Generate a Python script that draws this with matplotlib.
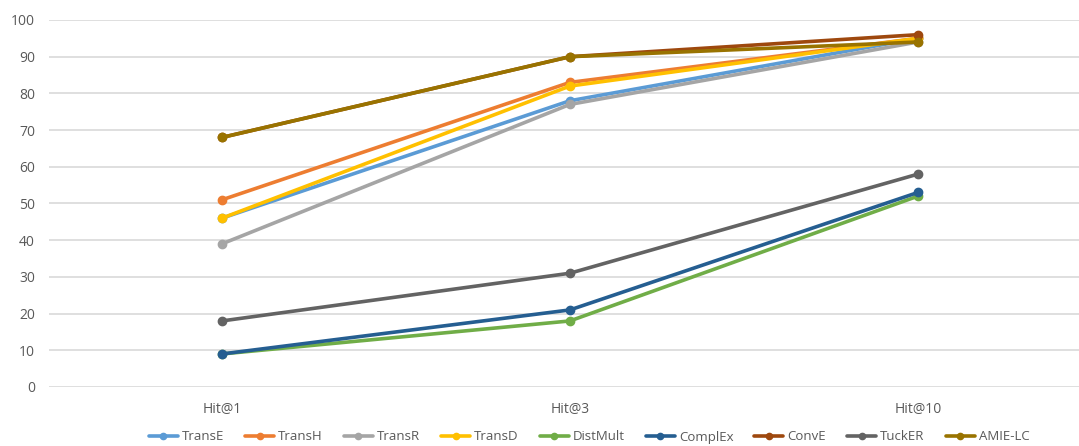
import matplotlib
matplotlib.use("Agg")
import matplotlib.pyplot as plt

categories = ["Hit@1", "Hit@3", "Hit@10"]

trans_e = [46, 78, 95]
trans_h = [51, 83, 95]
trans_r = [39, 77, 94]
trans_d = [46, 82, 95]
dist_mult = [9, 18, 52]
compl_ex = [9, 21, 53]
conv_e = [68, 90, 96]
tuck_er = [18, 31, 58]
amie_lc = [68, 90, 94]

series = [
    ("TransE", trans_e, "#5B9BD5"),
    ("TransH", trans_h, "#ED7D31"),
    ("TransR", trans_r, "#A5A5A5"),
    ("TransD", trans_d, "#FFC000"),
    ("DistMult", dist_mult, "#70AD47"),
    ("ComplEx", compl_ex, "#255E91"),
    ("ConvE", conv_e, "#9E480E"),
    ("TuckER", tuck_er, "#636363"),
    ("AMIE-LC", amie_lc, "#997300"),
]

plt.rcParams["font.family"] = ["Open Sans", "DejaVu Sans"]

fig = plt.figure(figsize=(10.79, 4.46), dpi=100)
ax = fig.add_axes([49 / 1079, 1 - 387 / 446, (1079 - 49) / 1079, 367 / 446])

x = list(range(len(categories)))
for name, vals, color in series:
    ax.plot(x, vals, color=color, lw=2.6, marker="o", ms=6,
            solid_capstyle="round", label=name, clip_on=False)

ax.set_ylim(0, 100)
ax.set_xlim(-0.497, 2.463)
ax.set_yticks(range(0, 101, 10))
ax.set_xticks(x)
ax.set_xticklabels(categories)
ax.yaxis.grid(True, color="#D9D9D9", lw=1.2)
ax.set_axisbelow(True)
for s in ax.spines.values():
    s.set_visible(False)
ax.tick_params(axis="both", length=0, colors="#595959", labelsize=10)
ax.tick_params(axis="y", pad=10)
ax.tick_params(axis="x", pad=11)

leg = fig.legend(loc="center", bbox_to_anchor=(589 / 1079, 1 - 437 / 446),
                 ncol=9, frameon=False, fontsize=9.5, handlelength=2.2,
                 handletextpad=0.3, columnspacing=1.6, markerscale=0.75)
for t in leg.get_texts():
    t.set_color("#595959")

fig.savefig("out.png", dpi=100)
